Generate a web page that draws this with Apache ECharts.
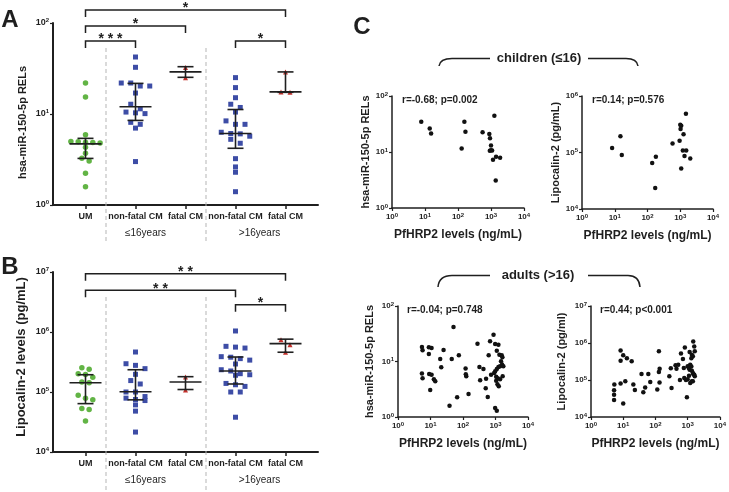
<!DOCTYPE html>
<html><head><meta charset="utf-8">
<script src="https://cdn.jsdelivr.net/npm/echarts@6/dist/echarts.min.js"></script>
<style>html,body{margin:0;padding:0;background:#fff}#c{width:729px;height:492px}</style>
</head><body><div id="c"></div>
<script>
// ---------- data ----------
const categories = ['UM', 'non-fatal CM', 'fatal CM', 'non-fatal CM', 'fatal CM'];
const groupLabels = ['≤16years', '>16years'];
const groupLabelPos = [1.2, 3.48];
const groupSplits = [0.41, 2.41];

// Panel A: hsa-miR-150-5p RELs
const mirUM  = [21.9, 15.4, 5.9, 5.0, 4.95, 4.9, 4.85, 4.8, 4.3, 3.7, 3.26, 3.05, 2.23, 1.59];
const mirNFC = [42.3, 32.6, 21.9, 21.9, 20.3, 20.3, 17.0, 12.8, 11.4, 10.5, 10.3, 10.1, 8.1, 7.7, 7.0, 3.0];
const mirFC  = [32.5, 25.0];
const mirNFA = [25.1, 19.5, 15.1, 12.8, 11.8, 10.5, 8.4, 7.7, 7.7, 6.3, 6.1, 6.05, 5.7, 5.27, 4.77, 3.23, 2.62, 2.29, 1.40];
const mirFA  = [29.0, 17.5, 17.3];
const mirMedian = [4.7, 12.0, 29.0, 6.1, 17.5];
const mirQ1     = [3.25, 8.5, 25.3, 4.2, 17.3];
const mirQ3     = [5.4, 21.7, 33.1, 11.2, 29.0];
const mirBrackets = [[0, 4, 139, '*'], [0, 2, 92.7, '*'], [0, 1, 63.4, '* * *'], [3, 4, 63.4, '*']];

// Panel B: Lipocalin-2 levels (pg/mL)
const lcnUM  = [2.54e5, 2.39e5, 2.02e5, 1.95e5, 1.76e5, 1.47e5, 1.43e5, 8.8e4, 7.9e4, 7.4e4, 5.3e4, 5.1e4, 3.3e4];
const lcnNFC = [4.64e5, 2.96e5, 2.78e5, 2.45e5, 1.97e5, 1.55e5, 1.36e5, 1.0e5, 1.0e5, 8.4e4, 7.9e4, 7.5e4, 7.2e4, 6.1e4, 4.8e4, 2.15e4];
const lcnFC  = [1.78e5, 1.08e5];
const lcnNFA = [1.04e6, 5.77e5, 5.6e5, 5.4e5, 3.88e5, 3.8e5, 3.6e5, 3.4e5, 2.93e5, 2.35e5, 2.24e5, 2.02e5, 1.94e5, 1.9e5, 1.39e5, 1.32e5, 1.24e5, 1.0e5, 1.0e5, 3.8e4];
const lcnFA  = [7.4e5, 6.15e5, 4.58e5];
const lcnMedian = [1.43e5, 1.01e5, 1.47e5, 2.24e5, 6.4e5];
const lcnQ1     = [6.4e4, 7.4e4, 1.1e5, 1.36e5, 4.6e5];
const lcnQ3     = [1.94e5, 2.35e5, 1.8e5, 3.83e5, 7.6e5];
const lcnBrackets = [[0, 4, 9.37e6, '* *'], [0, 3, 4.95e6, '* *'], [3, 4, 2.85e6, '*']];

// Panel C: [PfHRP2 ng/mL, value]
const childMir = [[7.7,34.6],[13.9,26.2],[15.3,21.3],[129,11.6],[156,34.6],[168,22.9],[556,22.5],[889,21.0],[931,17.6],[1265,44.4],[1000,13.0],[920,10.5],[1000,10.8],[1080,10.6],[1151,7.3],[1423,8.2],[1888,7.9],[1390,3.1]];
const childLcn = [[8.3,1.2e5],[14.9,1.93e5],[16.4,9.0e4],[139,6.5e4],[180,8.4e4],[172,2.35e4],[582,1.45e5],[955,1.62e5],[1000,3.1e5],[1070,2.98e5],[1023,2.6e5],[1490,4.87e5],[1260,2.1e5],[1200,1.08e5],[1520,1.08e5],[1350,8.7e4],[2020,7.8e4],[1070,5.2e4]];
const adultMir = [[5.45,18.2],[5.7,15.9],[5.45,6.1],[5.7,5.0],[8.9,18.0],[10.8,17.5],[8.9,13.6],[9.1,5.95],[10.8,5.8],[9.8,3.06],[12.7,4.8],[14.0,4.4],[19.9,11.1],[21.4,7.9],[25.2,16.1],[45,11.1],[51,41.9],[38.5,1.6],[66,2.26],[74.5,12.9],[120,7.5],[126,5.4],[122,5.9],[148,2.6],[279,20.9],[320,8.0],[337,4.6],[425,7.3],[500,3.3],[513,4.9],[577,2.3],[616,12.9],[680,23.1],[870,30.4],[975,20.7],[1230,20.1],[1096,15.7],[730,5.8],[1318,13.3],[1555,12.9],[1630,11.9],[1480,10.1],[1590,8.8],[1380,8.2],[1230,8.0],[1096,7.3],[975,6.7],[910,6.2],[1050,5.3],[1170,5.0],[1380,4.8],[1050,4.5],[1150,3.9],[1260,3.6],[1660,5.4],[1740,8.2],[975,1.45],[1096,1.3]];
const adultLcn = [[5.2,5.3e4],[5.2,4.0e4],[5.2,2.9e4],[5.3,7.5e4],[8.3,6.3e5],[8.3,3.3e5],[10,4.7e5],[13,3.9e5],[18.3,3.2e5],[8.3,8.1e4],[11.6,9.2e4],[10,2.3e4],[20.6,7.5e4],[23,5.4e4],[37,1.45e5],[42,4.7e4],[48,6.3e4],[60,1.45e5],[69,8.8e4],[114,5.5e4],[128,6.0e5],[128,1.64e5],[135,2.0e5],[134,8.6e4],[270,1.26e5],[300,2.07e5],[316,6.1e4],[420,2.5e5],[450,2.0e5],[510,2.6e5],[575,1.0e5],[620,5.2e5],[713,3.7e5],[760,2.1e5],[818,7.6e5],[783,1.13e5],[883,1.0e5],[947,3.4e4],[1000,2.34e5],[1080,2.1e5],[1200,2.6e5],[1150,1.9e5],[1300,2.3e5],[1350,1.79e5],[1450,1.55e5],[1150,5.7e5],[1350,4.8e5],[1450,4.4e5],[1300,3.9e5],[1490,1.1e6],[1600,8.1e5],[1660,6.0e5],[1350,9.2e4],[1200,8.3e4],[1450,9.2e4],[1600,1.39e5],[1660,1.26e5],[1500,1.45e5],[1000,1.05e5],[1100,1.3e5]];
const corrLabels = ['r=-0.68; p=0.002', 'r=0.14; p=0.576', 'r=-0.04; p=0.748', 'r=0.44; p<0.001'];

// ---------- styling / helpers ----------
const FONT = '"Liberation Sans", Arial, Helvetica, sans-serif';
const INK = '#1f1f1f';
const groupColors = ['#62b445', '#3d4da6', '#c4302b', '#3d4da6', '#c4302b'];
const groupSymbols = ['circle', 'rect', 'triangle', 'rect', 'triangle'];
const groupSizes = [5.5, 5, 5, 5, 5];
const groupSpacing = [0.146, 0.19, 0.18, 0.19, 0.18];

function supLabel(v) { return '{b|10}{s|' + Math.round(Math.log10(v)) + '}'; }
function richSup(size) {
  return {
    b: { fontSize: size, fontWeight: 'bold', fontFamily: FONT, color: INK, lineHeight: size + 2 },
    s: { fontSize: Math.round(size * 0.72), fontWeight: 'bold', fontFamily: FONT, color: INK, verticalAlign: 'top', lineHeight: size + 2 }
  };
}
function swarm(vals, idx, ppd, spacing) {
  const s = vals.slice().sort((a, b) => b - a);
  const rows = []; let cur = null;
  s.forEach(v => {
    const py = Math.log10(v) * ppd;
    if (cur && cur.start - py < 5) cur.items.push(v);
    else { cur = { start: py, items: [v] }; rows.push(cur); }
  });
  const out = [];
  rows.forEach(r => { const n = r.items.length; r.items.forEach((v, k) => out.push([idx + (k - (n - 1) / 2) * spacing, v])); });
  return out;
}
function catXAxis(gi) {
  return {
    type: 'value', gridIndex: gi, min: -0.65, max: 4.65,
    axisLine: { onZero: false, lineStyle: { color: INK, width: 2 } },
    axisTick: { customValues: [0, 1, 2, 3, 4], length: 4, lineStyle: { color: INK, width: 1.5 } },
    axisLabel: { customValues: [0, 1, 2, 3, 4], formatter: v => categories[Math.round(v)], fontSize: 9, fontWeight: 'bold', fontFamily: FONT, color: INK, margin: 7 },
    splitLine: { show: false }
  };
}
function logYAxis(gi, min, max, name, nameSize, nameGap, labSize, lw, pad) {
  return {
    type: 'log', logBase: 10, gridIndex: gi, min: min, max: max,
    axisLine: { show: true, onZero: false, lineStyle: { color: INK, width: lw } },
    axisTick: { show: true, length: 3, lineStyle: { color: INK, width: 1.2 } },
    minorTick: { show: false },
    axisLabel: { formatter: supLabel, rich: richSup(labSize), margin: 4 },
    splitLine: { show: false },
    name: name, nameLocation: 'middle', nameGap: nameGap,
    nameTextStyle: { fontSize: nameSize, fontWeight: 'bold', fontFamily: FONT, color: INK, padding: pad || 0 }
  };
}
function logXAxis(gi) {
  return {
    type: 'log', logBase: 10, gridIndex: gi, min: 1, max: 10000,
    axisLine: { show: true, onZero: false, lineStyle: { color: INK, width: 1.5 } },
    axisTick: { show: true, length: 3, lineStyle: { color: INK, width: 1.2 } },
    minorTick: { show: false },
    axisLabel: { formatter: supLabel, rich: richSup(8), margin: 4 },
    splitLine: { show: false },
    name: 'PfHRP2 levels (ng/mL)', nameLocation: 'middle', nameGap: 21,
    nameTextStyle: { fontSize: 12, fontWeight: 'bold', fontFamily: FONT, color: INK }
  };
}
function errSeries(ai, med, q1, q3) {
  return {
    type: 'custom', xAxisIndex: ai, yAxisIndex: ai, z: 5, silent: true,
    encode: { x: 0, y: [1, 2, 3] },
    data: categories.map((c, i) => [i, med[i], q1[i], q3[i]]),
    renderItem: function (params, api) {
      const x = api.value(0);
      const m = api.coord([x, api.value(1)]);
      const lo = api.coord([x, api.value(2)]);
      const hi = api.coord([x, api.value(3)]);
      const st = { stroke: INK, lineWidth: 1.6 };
      return { type: 'group', children: [
        { type: 'line', shape: { x1: m[0] - 16, y1: m[1], x2: m[0] + 16, y2: m[1] }, style: st },
        { type: 'line', shape: { x1: hi[0] - 8, y1: hi[1], x2: hi[0] + 8, y2: hi[1] }, style: st },
        { type: 'line', shape: { x1: lo[0] - 8, y1: lo[1], x2: lo[0] + 8, y2: lo[1] }, style: st },
        { type: 'line', shape: { x1: m[0], y1: hi[1], x2: m[0], y2: lo[1] }, style: st }
      ] };
    }
  };
}
function bracketSeries(ai, list) {
  return {
    type: 'custom', xAxisIndex: ai, yAxisIndex: ai, z: 5, silent: true, clip: false,
    encode: { x: [0, 1], y: 2 },
    data: list.map(b => [b[0], b[1], b[2]]),
    renderItem: function (params, api) {
      const b = list[params.dataIndex];
      const p = api.coord([api.value(0), api.value(2)]);
      const q = api.coord([api.value(1), api.value(2)]);
      return { type: 'group', children: [
        { type: 'polyline', shape: { points: [[p[0], p[1] + 7], [p[0], p[1]], [q[0], q[1]], [q[0], q[1] + 7]] }, style: { stroke: INK, lineWidth: 1.5, fill: null } },
        { type: 'text', style: { text: b[3], x: (p[0] + q[0]) / 2, y: p[1] - 1.5, align: 'center', verticalAlign: 'middle', fontSize: 14, fontWeight: 'bold', fontFamily: FONT, fill: INK } }
      ] };
    }
  };
}
function splitSeries(ai, ymin) {
  return {
    type: 'custom', xAxisIndex: ai, yAxisIndex: ai, z: 1, silent: true, clip: false,
    encode: { x: 0, y: 1 },
    data: groupSplits.map(s => [s, ymin]),
    renderItem: function (params, api) {
      const cs = params.coordSys;
      const x = api.coord([api.value(0), api.value(1)])[0];
      return { type: 'line', shape: { x1: x, y1: cs.y + 25, x2: x, y2: cs.y + cs.height + 38 }, style: { stroke: '#b5b5b5', lineWidth: 1, lineDash: [4, 3] } };
    }
  };
}
function groupLabelSeries(ai, ymin) {
  return {
    type: 'custom', xAxisIndex: ai, yAxisIndex: ai, z: 3, silent: true, clip: false,
    encode: { x: 0, y: 1 },
    data: groupLabelPos.map(s => [s, ymin]),
    renderItem: function (params, api) {
      const cs = params.coordSys;
      const x = api.coord([api.value(0), api.value(1)])[0];
      return { type: 'text', style: { text: groupLabels[params.dataIndex], x: x, y: cs.y + cs.height + 28, align: 'center', verticalAlign: 'middle', fontSize: 10, fontFamily: FONT, fill: INK } };
    }
  };
}
function dotSeries(ai, groups, ppd) {
  return groups.map((vals, i) => ({
    type: 'scatter', xAxisIndex: ai, yAxisIndex: ai, z: 2, silent: true,
    symbol: groupSymbols[i], symbolSize: groupSizes[i],
    itemStyle: { color: groupColors[i], opacity: 1 },
    data: swarm(vals, i, ppd, groupSpacing[i])
  }));
}
function corrSeries(ai, pts) {
  return { type: 'scatter', xAxisIndex: ai, yAxisIndex: ai, silent: true, symbol: 'circle', symbolSize: 4.5, itemStyle: { color: '#111', opacity: 1 }, data: pts };
}

const chart = echarts.init(document.getElementById('c'), null, { renderer: 'canvas' });
const txt = (t, x, y, size, align, weight) => ({ type: 'text', silent: true, style: { text: t, x: x, y: y, align: align || 'left', verticalAlign: 'middle', fontSize: size, fontWeight: weight || 'bold', fontFamily: FONT, fill: INK } });
const braceStyle = { stroke: INK, lineWidth: 1.5, fill: null };

chart.setOption({
  animation: false,
  backgroundColor: '#fff',
  grid: [
    { left: 53, top: 23, width: 265, height: 182 },
    { left: 53, top: 272, width: 265, height: 180 },
    { left: 392, top: 96, width: 132, height: 112 },
    { left: 582, top: 96, width: 131, height: 113 },
    { left: 398, top: 306, width: 130, height: 111 },
    { left: 591, top: 306, width: 129, height: 111 }
  ],
  xAxis: [catXAxis(0), catXAxis(1), logXAxis(2), logXAxis(3), logXAxis(4), logXAxis(5)],
  yAxis: [
    logYAxis(0, 1, 100, 'hsa-miR-150-5p RELs', 11, 25, 9, 2, [0, 17, 0, 0]),
    logYAxis(1, 1e4, 1e7, 'Lipocalin-2 levels (pg/mL)', 13, 25, 9, 2, [0, 0, 0, 10]),
    logYAxis(2, 1, 100, 'hsa-miR-150-5p RELs', 11, 20, 8, 1.5),
    logYAxis(3, 1e4, 1e6, 'Lipocalin-2 (pg/mL)', 11, 20, 8, 1.5),
    logYAxis(4, 1, 100, 'hsa-miR-150-5p RELs', 11, 23, 8, 1.5),
    logYAxis(5, 1e4, 1e7, 'Lipocalin-2 (pg/ml)', 11, 24, 8, 1.5)
  ],
  series: [].concat(
    [splitSeries(0, 1), groupLabelSeries(0, 1)],
    dotSeries(0, [mirUM, mirNFC, mirFC, mirNFA, mirFA], 91),
    [errSeries(0, mirMedian, mirQ1, mirQ3), bracketSeries(0, mirBrackets)],
    [splitSeries(1, 1e4), groupLabelSeries(1, 1e4)],
    dotSeries(1, [lcnUM, lcnNFC, lcnFC, lcnNFA, lcnFA], 60),
    [errSeries(1, lcnMedian, lcnQ1, lcnQ3), bracketSeries(1, lcnBrackets)],
    [corrSeries(2, childMir), corrSeries(3, childLcn), corrSeries(4, adultMir), corrSeries(5, adultLcn)]
  ),
  graphic: [
    txt('A', 10, 20, 24, 'center'),
    txt('B', 10, 267, 24, 'center'),
    txt('C', 362, 27, 24, 'center'),
    txt(corrLabels[0], 402, 100, 10),
    txt(corrLabels[1], 592, 100, 10),
    txt(corrLabels[2], 407, 310, 10),
    txt(corrLabels[3], 600, 310, 10),
    txt('children (≤16)', 539, 58, 13, 'center'),
    txt('adults (>16)', 538, 275, 13, 'center'),
    { type: 'bezierCurve', silent: true, shape: { x1: 439, y1: 66, x2: 452, y2: 58.5, cpx1: 440, cpy1: 58.5 }, style: braceStyle },
    { type: 'line', silent: true, shape: { x1: 452, y1: 58.5, x2: 490, y2: 58.5 }, style: braceStyle },
    { type: 'line', silent: true, shape: { x1: 588, y1: 58.5, x2: 626, y2: 58.5 }, style: braceStyle },
    { type: 'bezierCurve', silent: true, shape: { x1: 626, y1: 58.5, x2: 638, y2: 66, cpx1: 637, cpy1: 58.5 }, style: braceStyle },
    { type: 'bezierCurve', silent: true, shape: { x1: 438, y1: 287, x2: 452, y2: 275.5, cpx1: 439, cpy1: 275.5 }, style: braceStyle },
    { type: 'line', silent: true, shape: { x1: 452, y1: 275.5, x2: 490, y2: 275.5 }, style: braceStyle },
    { type: 'line', silent: true, shape: { x1: 588, y1: 275.5, x2: 628, y2: 275.5 }, style: braceStyle },
    { type: 'bezierCurve', silent: true, shape: { x1: 628, y1: 275.5, x2: 640, y2: 287, cpx1: 639, cpy1: 275.5 }, style: braceStyle }
  ]
});
</script></body></html>
